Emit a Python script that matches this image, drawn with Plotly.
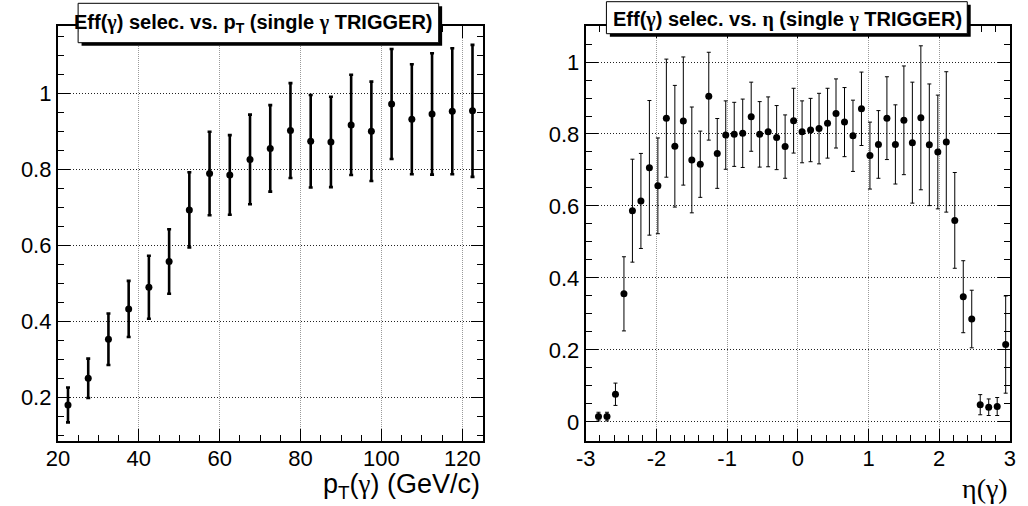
import plotly.graph_objects as go

# ---- efficiency vs photon pT (bins of 5 GeV/c) ----
pt_centers = [22.5, 27.5, 32.5, 37.5, 42.5, 47.5, 52.5, 57.5, 62.5, 67.5, 72.5,
              77.5, 82.5, 87.5, 92.5, 97.5, 102.5, 107.5, 112.5, 117.5, 122.5]
eff_pt = [0.180, 0.250, 0.353, 0.433, 0.490, 0.558, 0.694, 0.790, 0.786, 0.827, 0.856,
          0.903, 0.875, 0.873, 0.918, 0.901, 0.973, 0.933, 0.947, 0.954, 0.955]
err_pt = [0.046, 0.052, 0.068, 0.074, 0.083, 0.085, 0.099, 0.110, 0.105, 0.118, 0.114,
          0.125, 0.122, 0.119, 0.132, 0.131, 0.145, 0.145, 0.160, 0.166, 0.174]

# ---- efficiency vs photon eta (bins of 0.12) ----
eta_centers = [-2.82, -2.70, -2.58, -2.46, -2.34, -2.22, -2.10, -1.98, -1.86, -1.74,
               -1.62, -1.50, -1.38, -1.26, -1.14, -1.02, -0.90, -0.78, -0.66, -0.54,
               -0.42, -0.30, -0.18, -0.06, 0.06, 0.18, 0.30, 0.42, 0.54, 0.66,
               0.78, 0.90, 1.02, 1.14, 1.26, 1.38, 1.50, 1.62, 1.74, 1.86,
               1.98, 2.10, 2.22, 2.34, 2.46, 2.58, 2.70, 2.82, 2.94]
eff_eta = [0.015, 0.015, 0.077, 0.356, 0.587, 0.614, 0.706, 0.656, 0.844, 0.766,
           0.836, 0.728, 0.716, 0.905, 0.746, 0.797, 0.799, 0.802, 0.848, 0.799,
           0.806, 0.790, 0.765, 0.837, 0.806, 0.811, 0.815, 0.830, 0.857, 0.833,
           0.795, 0.870, 0.740, 0.771, 0.844, 0.771, 0.838, 0.776, 0.845, 0.770,
           0.750, 0.778, 0.560, 0.348, 0.286, 0.048, 0.041, 0.043, 0.215]
err_eta = [0.012, 0.012, 0.031, 0.103, 0.143, 0.132, 0.187, 0.133, 0.164, 0.169,
           0.178, 0.147, 0.092, 0.122, 0.097, 0.095, 0.089, 0.095, 0.096, 0.091,
           0.097, 0.089, 0.088, 0.090, 0.086, 0.088, 0.098, 0.097, 0.096, 0.096,
           0.099, 0.102, 0.093, 0.094, 0.115, 0.110, 0.151, 0.168, 0.200, 0.169,
           0.158, 0.195, 0.133, 0.100, 0.080, 0.028, 0.023, 0.025, 0.135]

pt_ticks = [20, 40, 60, 80, 100, 120]
eta_ticks = [-3, -2, -1, 0, 1, 2, 3]
eta_tick_labels = ["-3", "-2", "-1", "0", "1", "2", "3"]

W, H = 1028, 506
SANS = "Liberation Sans, Arial, Helvetica, sans-serif"
SERIF = "Liberation Serif, Times New Roman, serif"


def px(x):
    return x / W


def py(y):
    return 1 - y / H


fig = go.Figure()

fig.add_trace(go.Scatter(
    x=pt_centers, y=eff_pt, mode="markers",
    marker=dict(color="black", size=7),
    error_y=dict(type="data", array=err_pt, color="black", thickness=2.6, width=2),
    xaxis="x", yaxis="y", showlegend=False,
))

fig.add_trace(go.Scatter(
    x=eta_centers, y=eff_eta, mode="markers",
    marker=dict(color="black", size=7),
    error_y=dict(type="data", array=err_eta, color="black", thickness=1, width=2),
    xaxis="x2", yaxis="y2", showlegend=False,
))

axis_common = dict(
    showline=True, linecolor="black", linewidth=2, mirror="allticks",
    ticks="inside", ticklen=12, tickwidth=1, tickcolor="black",
    showgrid=True, gridwidth=1,
    zeroline=False,
    tickfont=dict(family=SANS, size=22, color="black"),
)
xgrid = dict(gridcolor="#9a9a9a", griddash="1px,1px", ticklabelstandoff=-3)
ygrid = dict(gridcolor="#222222", griddash="1px,2px")

fig.update_layout(
    width=W, height=H,
    margin=dict(l=0, r=0, t=0, b=0),
    paper_bgcolor="white", plot_bgcolor="white",
    xaxis=dict(axis_common, **xgrid, domain=[px(46.7), px(479)], range=[20, 125],
               tickmode="array", tickvals=pt_ticks,
               minor=dict(dtick=5, tick0=20, ticks="inside", ticklen=6,
                          tickcolor="black", showgrid=False),
               anchor="y"),
    yaxis=dict(axis_common, **ygrid, domain=[py(440.7), py(25.5)], range=[0.0856, 1.18],
               dtick=0.2, tick0=0,
               minor=dict(dtick=0.05, tick0=0, ticks="inside", ticklen=6,
                          tickcolor="black", showgrid=False),
               anchor="x"),
    xaxis2=dict(axis_common, **xgrid, domain=[px(584), px(1015.7)], range=[-3, 3],
                tickmode="array", tickvals=eta_ticks, ticktext=eta_tick_labels,
                minor=dict(dtick=0.2, tick0=-3, ticks="inside", ticklen=6,
                           tickcolor="black", showgrid=False),
                anchor="y2"),
    yaxis2=dict(axis_common, **ygrid, domain=[py(440.7), py(26)], range=[-0.052, 1.1],
                dtick=0.2, tick0=0,
                minor=dict(dtick=0.05, tick0=0, ticks="inside", ticklen=6,
                           tickcolor="black", showgrid=False),
                anchor="x2"),
)

# title panes with drop shadow
shapes = []
for (x0, y0, x1, y1) in [(67.3, 3.3, 434.3, 42.7), (605.0, 1.7, 972.3, 33.7)]:
    shapes.append(dict(type="rect", xref="paper", yref="paper",
                       x0=px(x0 + 3.5), x1=px(x1 + 3.5), y0=py(y1 + 3), y1=py(y0 + 3),
                       fillcolor="black", line=dict(width=0), layer="above"))
    shapes.append(dict(type="rect", xref="paper", yref="paper",
                       x0=px(x0), x1=px(x1), y0=py(y1), y1=py(y0),
                       fillcolor="white", line=dict(color="black", width=1), layer="above"))
fig.update_layout(shapes=shapes)

g = f'<span style="font-family:{SERIF}">γ</span>'
eta = f'<span style="font-family:{SERIF}">η</span>'

annotations = [
    dict(text=f"<b>Eff({g}) selec. vs. p<sub>T</sub> (single {g} TRIGGER)</b>",
         x=px(61), y=py(23.5), xanchor="left", yanchor="middle",
         font=dict(family=SANS, size=20, color="black")),
    dict(text=f"<b>Eff({g}) selec. vs. {eta} (single {g} TRIGGER)</b>",
         x=px(610), y=py(19.5), xanchor="left", yanchor="middle",
         font=dict(family=SANS, size=20, color="black")),
    dict(text=f"p<sub>T</sub>({g}) (GeV/c)",
         x=px(478), y=py(486), xanchor="right", yanchor="middle",
         font=dict(family=SANS, size=27, color="black")),
    dict(text="η(γ)",
         x=px(1016), y=py(488), xanchor="right", yanchor="middle",
         font=dict(family=SERIF, size=28, color="black")),
]
for a in annotations:
    a.update(xref="paper", yref="paper", showarrow=False)
fig.update_layout(annotations=annotations)

fig.write_html("out.html")
